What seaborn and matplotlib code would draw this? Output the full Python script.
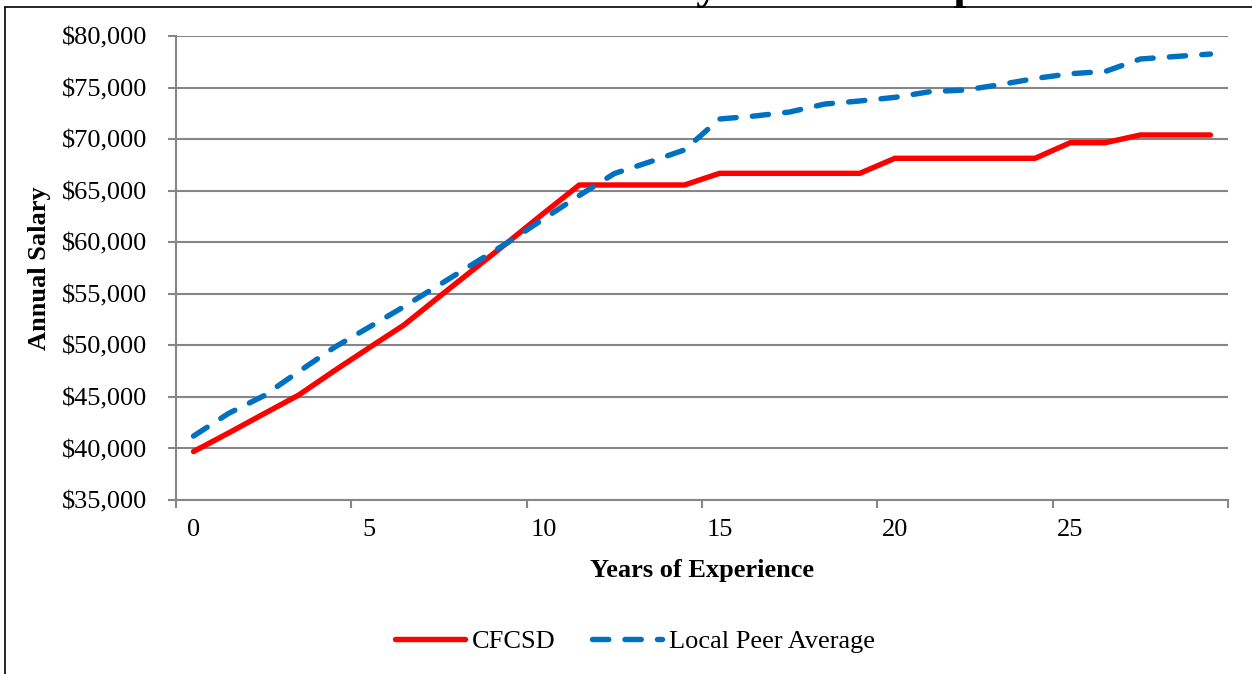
import matplotlib
matplotlib.use("Agg")
import matplotlib.pyplot as plt
import seaborn as sns
import pandas as pd
from matplotlib.lines import Line2D
from matplotlib.ticker import FuncFormatter, MultipleLocator

# ---- data ----
years = list(range(30))
cfcsd = [39700, 41500, 43350, 45180, 47500, 49750, 51970, 54700, 57400, 60100,
         62850, 65550, 65550, 65550, 65550, 66680, 66680, 66680, 66680, 66680,
         68140, 68140, 68140, 68140, 68140, 69650, 69650, 70400, 70400, 70400]
peer = [41200, 43400, 45100, 47450, 49770, 51750, 53750, 55850, 57950, 60050,
        62300, 64530, 66660, 67780, 68950, 71950, 72240, 72630, 73400, 73700,
        74050, 74600, 74760, 75280, 75880, 76340, 76560, 77770, 78010, 78250]
series_names = ["CFCSD", "Local Peer Average"]
title = "Teacher Salaries by Years of Experience"
x_label = "Years of Experience"
y_label = "Annual Salary"
x_tick_labels = ["0", "5", "10", "15", "20", "25"]

df = pd.concat([
    pd.DataFrame({"Years": years, "Salary": cfcsd, "Series": series_names[0]}),
    pd.DataFrame({"Years": years, "Salary": peer, "Series": series_names[1]}),
])

sns.set_theme(style="white")
plt.rcParams["font.family"] = ["Liberation Serif", "DejaVu Serif"]
plt.rcParams["text.color"] = "black"

W, H, DPI = 1252, 674, 100
fig = plt.figure(figsize=(W / DPI, H / DPI), dpi=DPI)
ax = fig.add_axes([176 / W, 1 - 500 / H, (1228 - 176) / W, (500 - 36) / H])

GRID = "#868686"
palette = {series_names[0]: "#FF0000", series_names[1]: "#0070C0"}
dashes = {series_names[0]: "", series_names[1]: (3, 3)}

sns.lineplot(data=df, x="Years", y="Salary", hue="Series", style="Series",
             palette=palette, dashes=dashes, linewidth=3.9, ax=ax, zorder=3)
for ln in ax.get_lines():
    ln.set_solid_capstyle("round")
    ln.set_dash_capstyle("round")
    ln.set_solid_joinstyle("round")
    ln.set_dash_joinstyle("round")

ax.set_xlim(-0.5, 29.5)
ax.set_ylim(35000, 80000)
ax.yaxis.set_major_locator(MultipleLocator(5000))
ax.yaxis.set_major_formatter(FuncFormatter(lambda v, p: f"${v:,.0f}"))
ax.set_xticks([0, 5, 10, 15, 20, 25])
ax.set_xticklabels(x_tick_labels)
ax.set_xticks([-0.5 + 5 * k for k in range(7)], minor=True)

ax.grid(axis="y", color=GRID, linewidth=1.5, zorder=0)
ax.grid(axis="x", visible=False)
for s in ["top", "right"]:
    ax.spines[s].set_visible(False)
for s in ["left", "bottom"]:
    ax.spines[s].set_color(GRID)
    ax.spines[s].set_linewidth(1.5)

ax.tick_params(axis="y", which="major", direction="out", length=6, width=1.5,
               color=GRID, labelsize=19, pad=15, left=True)
ax.tick_params(axis="x", which="major", length=0, labelsize=19, pad=14)
ax.tick_params(axis="x", which="minor", direction="out", length=6, width=1.5,
               color=GRID, bottom=True)
for t in ax.get_xticklabels() + ax.get_yticklabels():
    t.set_color("black")

ax.set_xlabel(x_label, fontsize=19, fontweight="bold", color="black")
ax.xaxis.set_label_coords(0.5, (500 - 571) / 464)
ax.xaxis.label.set_verticalalignment("center")
ax.set_ylabel(y_label, fontsize=19, fontweight="bold", color="black")
ax.yaxis.set_label_coords((40 - 176) / 1052, 0.5)
ax.yaxis.label.set_verticalalignment("center")

# legend
handles, labels = ax.get_legend_handles_labels()
if ax.legend_:
    ax.legend_.remove()
leg = fig.legend(handles, labels, loc="center", bbox_to_anchor=(635 / W, 1 - 641 / H),
                 ncol=2, frameon=False, fontsize=19, handlelength=2.65,
                 handletextpad=0.25, columnspacing=1.4, labelcolor="black")
for lh in leg.get_lines():
    lh.set_linewidth(3.9)
    lh.set_solid_capstyle("round")
    lh.set_dash_capstyle("round")

# title (mostly cropped above the image top, as in the reference)
fig.text(728 / W, 1 + 2.5 / H, title, ha="center", va="baseline",
         fontsize=33, fontweight="bold", color="black")

# outer chart border (partially cropped)
fig.add_artist(Line2D([5 / W, 5 / W], [0, 1 - 7 / H], transform=fig.transFigure,
                      color="black", linewidth=1.2))
fig.add_artist(Line2D([5 / W, 1], [1 - 7 / H, 1 - 7 / H], transform=fig.transFigure,
                      color="black", linewidth=1.2))

fig.savefig("out.png", dpi=DPI)
